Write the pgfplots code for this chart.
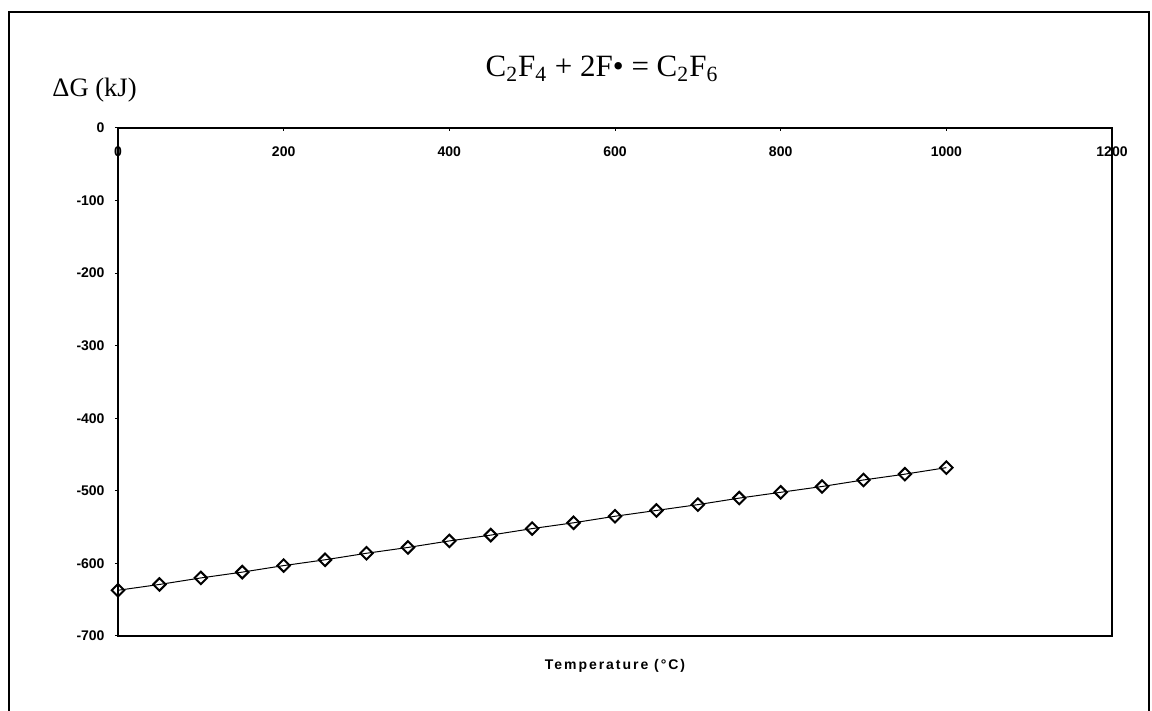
\documentclass[border=0pt]{standalone}
\usepackage{fontspec}
\setmainfont{Liberation Serif}
\setsansfont{Liberation Sans}
\newfontfamily\spacedsans[LetterSpace=14]{Liberation Sans}
\usepackage{pgfplots}
\pgfplotsset{compat=1.18}

% Gibbs free energy of C2F4 + 2F -> C2F6 against temperature
\pgfplotstableread{
T    dG
0    -637
50   -629
100  -620
150  -612
200  -603
250  -595
300  -586
350  -578
400  -569
450  -561
500  -552
550  -544
600  -535
650  -527
700  -519
750  -510
800  -502
850  -494
900  -485
950  -477
1000 -468
}\dGdata

\begin{document}
\begin{tikzpicture}[x=1pt,y=1pt]
\useasboundingbox (-59,-37.5) rectangle (517,318);
% outer frame (open at the bottom)
\draw[line width=1pt] (-54.5,-40) -- (-54.5,312) -- (515.5,312) -- (515.5,-40);

\begin{axis}[
  at={(0,0)}, anchor=south west,
  scale only axis,
  width=497pt, height=254pt,
  xmin=0, xmax=1200, ymin=-700, ymax=0,
  xtick={0,200,...,1200},
  ytick={-700,-600,...,0},
  yticklabels={-700,-600,-500,-400,-300,-200,-100,0},
  xticklabel pos=upper,
  xtick pos=upper,
  ytick pos=left,
  tick align=inside,
  major tick length=1.5pt,
  y tick style={xshift=-1.5pt},
  axis line style={line width=1.2pt},
  tick style={black, line width=0.5pt},
  /pgf/number format/assume math mode=true,
  /pgf/number format/1000 sep={},
  ticklabel style={font=\sffamily\bfseries\fontsize{7}{8}\selectfont},
  xticklabel style={anchor=north, yshift=-6pt},
  yticklabel style={xshift=-3.2pt},
  clip=false,
]
\addplot[black, line width=0.5pt, mark=square, mark size=2.2pt,
  mark options={line width=1pt, fill=white, rotate=45}]
  table[x=T, y=dG] {\dGdata};
\end{axis}

% titles and axis names
\node[anchor=base, font=\fontsize{15.5}{18}\selectfont, inner sep=0pt] at (242,279.5)
  {C\textsubscript{2}F\textsubscript{4} + 2F• = C\textsubscript{2}F\textsubscript{6}};
\node[anchor=base west, font=\fontsize{13.3}{15}\selectfont, inner sep=0pt] at (-33,269.5)
  {ΔG (kJ)};
\node[anchor=base, font=\spacedsans\bfseries\fontsize{7}{8}\selectfont, inner sep=0pt] at (248.5,-17)
  {Temperature (°C)};
\end{tikzpicture}
\end{document}
